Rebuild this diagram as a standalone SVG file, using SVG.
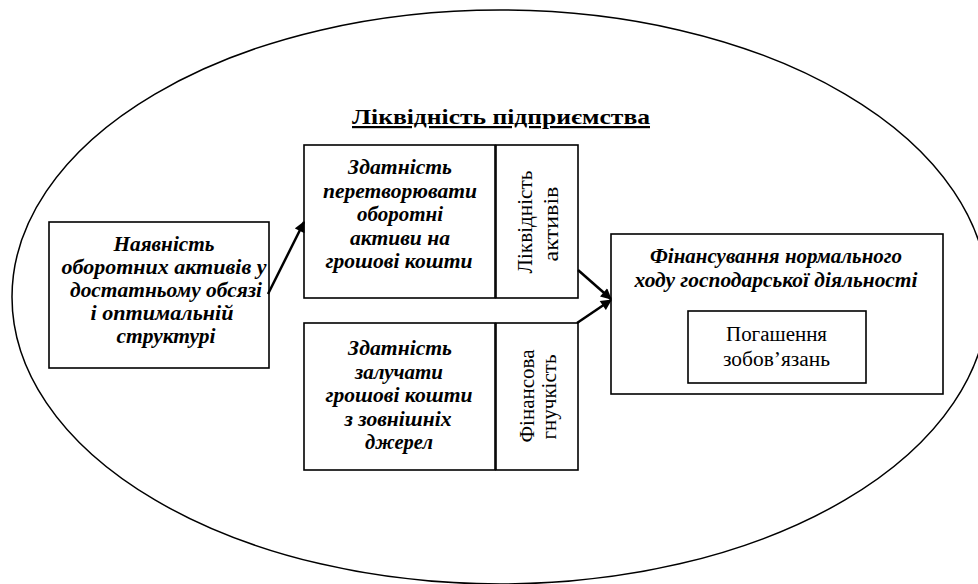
<svg xmlns="http://www.w3.org/2000/svg" width="978" height="584" viewBox="0 0 978 584">
<style>
.box{fill:#fff;stroke:#000;stroke-width:1.6}
.bi{font-weight:bold;font-style:italic;font-size:20px}
.rg{font-size:20px}
.con{fill:none;stroke:#000;stroke-width:2.5}
</style>
<defs>
<marker id="ah" viewBox="0 0 10 10" refX="9" refY="5" markerWidth="5" markerHeight="4.4" orient="auto" markerUnits="strokeWidth">
<path d="M0,0 L10,5 L0,10 Z" fill="#000"/>
</marker>
</defs>
<rect width="978" height="584" fill="#fff"/>
<ellipse id="boundary" cx="500" cy="297" rx="488" ry="287" fill="none" stroke="#000" stroke-width="1.5"/>
<g font-family="Liberation Serif, Times New Roman, serif" text-anchor="middle" fill="#000">
<g id="title"><text x="501" y="124" font-weight="bold" font-size="22" text-decoration="underline" textLength="298" lengthAdjust="spacingAndGlyphs">Ліквідність підприємства</text></g>
<g id="n-availability" class="bi">
<rect class="box" x="49" y="222" width="220" height="146"/>
<text x="164" y="251" textLength="101" lengthAdjust="spacingAndGlyphs">Наявність</text>
<text x="164" y="274" textLength="205" lengthAdjust="spacingAndGlyphs">оборотних активів у</text>
<text x="166" y="297" textLength="192" lengthAdjust="spacingAndGlyphs">достатньому обсязі</text>
<text x="162" y="320" textLength="143" lengthAdjust="spacingAndGlyphs">і оптимальній</text>
<text x="166" y="343" textLength="99" lengthAdjust="spacingAndGlyphs">структурі</text>
</g>
<g id="n-convert" class="bi">
<rect class="box" x="304" y="145" width="191" height="153"/>
<text x="400" y="174" textLength="104" lengthAdjust="spacingAndGlyphs">Здатність</text>
<text x="400" y="197.5" textLength="154" lengthAdjust="spacingAndGlyphs">перетворювати</text>
<text x="400" y="221" textLength="86" lengthAdjust="spacingAndGlyphs">оборотні</text>
<text x="400" y="244.5" textLength="100" lengthAdjust="spacingAndGlyphs">активи на</text>
<text x="399" y="268" textLength="147" lengthAdjust="spacingAndGlyphs">грошові кошти</text>
</g>
<g id="n-asset-liquidity" class="rg">
<rect class="box" x="496" y="145" width="82" height="153"/>
<text transform="translate(532,222) rotate(-90)" textLength="103" lengthAdjust="spacingAndGlyphs">Ліквідність</text>
<text transform="translate(558,224) rotate(-90)" textLength="75" lengthAdjust="spacingAndGlyphs">активів</text>
</g>
<g id="n-attract" class="bi">
<rect class="box" x="304" y="323" width="191" height="147"/>
<text x="400" y="355" textLength="104" lengthAdjust="spacingAndGlyphs">Здатність</text>
<text x="399" y="378.5" textLength="88" lengthAdjust="spacingAndGlyphs">залучати</text>
<text x="399" y="402" textLength="147" lengthAdjust="spacingAndGlyphs">грошові кошти</text>
<text x="398" y="425.5" textLength="107" lengthAdjust="spacingAndGlyphs">з зовнішніх</text>
<text x="399" y="449" textLength="68" lengthAdjust="spacingAndGlyphs">джерел</text>
</g>
<g id="n-flexibility" class="rg">
<rect class="box" x="496" y="323" width="82" height="147"/>
<text transform="translate(534,396) rotate(-90)" textLength="93" lengthAdjust="spacingAndGlyphs">Фінансова</text>
<text transform="translate(556,397) rotate(-90)" textLength="85" lengthAdjust="spacingAndGlyphs">гнучкість</text>
</g>
<g id="n-financing" class="bi">
<rect class="box" x="611" y="234" width="332" height="160"/>
<text x="776" y="263" textLength="252" lengthAdjust="spacingAndGlyphs">Фінансування нормального</text>
<text x="776" y="287" textLength="283" lengthAdjust="spacingAndGlyphs">ходу господарської діяльності</text>
</g>
<g id="n-repayment" class="rg">
<rect class="box" x="688" y="311" width="178" height="72"/>
<text x="776.5" y="341" textLength="101" lengthAdjust="spacingAndGlyphs">Погашення</text>
<text x="776.5" y="366" textLength="107" lengthAdjust="spacingAndGlyphs">зобов’язань</text>
</g>
</g>
<g id="connectors">
<path class="con" d="M268,294 L304,222" marker-end="url(#ah)"/>
<path class="con" d="M578,270 L611,299" marker-end="url(#ah)"/>
<path class="con" d="M577,323 L611,300" marker-end="url(#ah)"/>
</g>
</svg>
